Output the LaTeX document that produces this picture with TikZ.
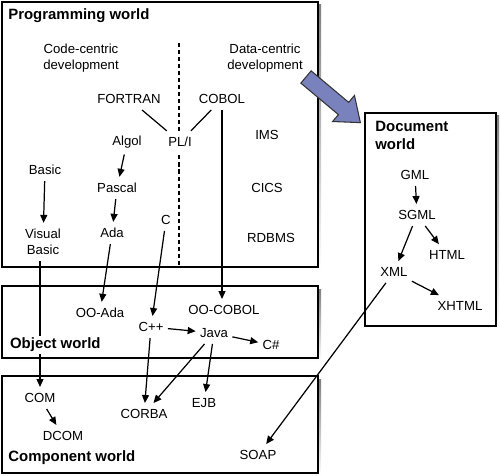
\documentclass[tikz,border=0pt]{standalone}
\usepackage{fontspec}
\setmainfont{Liberation Sans}
\usetikzlibrary{arrows.meta}
\definecolor{shade}{RGB}{146,146,206}
\definecolor{bigarr}{RGB}{122,130,190}

\begin{document}
\begin{tikzpicture}[x=0.02cm,y=-0.02cm,
  lang/.style={font=\fontsize{7.5}{9.1}\selectfont,inner xsep=2.3pt,inner ysep=3.4pt,align=center},
  world/.style={font=\fontsize{8.5}{10.2}\selectfont\bfseries,inner sep=0pt,align=left},
  arr/.style={-{Triangle[length=1.6mm,width=1.4mm]},line width=0.7pt},
  box/.style={draw=black,fill=white,line width=1.1pt}]

\useasboundingbox (0,0) rectangle (500,476);

% boxes, shadow first
\foreach \xa/\ya/\xb/\yb in {2/2/318/267, 2/286/318/358, 2/376/318/473, 365/113/496/326}{
  \fill[shade] (\xa+3,\ya+3) rectangle (\xb+3,\yb+3);
  \draw[box] (\xa,\ya) rectangle (\xb,\yb);
}

% code / data divider
\draw[line width=1.1pt,dash pattern=on 2.3pt off 1.7pt] (179,43) -- (179,267);

% programming world
\node[world,anchor=west] (progw) at (8,16) {Programming world};
\node[lang] (codec) at (81,58) {Code-centric\\development};
\node[lang] (datac) at (265,58) {Data-centric\\development};
\node[lang] (fortran) at (129,99) {FORTRAN};
\node[lang] (cobol) at (222,99) {COBOL};
\node[lang,fill=white] (pli) at (180,142) {PL/I};
\node[lang] (algol) at (127,142) {Algol};
\node[lang] (pascal) at (117,188) {Pascal};
\node[lang] (ada) at (112,233) {Ada};
\node[lang] (basic) at (45,170) {Basic};
\node[lang] (vbasic) at (43,242) {Visual\\Basic};
\node[lang] (c) at (166,220) {C};
\node[lang] (ims) at (267,135) {IMS};
\node[lang] (cics) at (267,188) {CICS};
\node[lang] (rdbms) at (271,238) {RDBMS};

% object world
\node[lang] (ooada) at (100,313) {OO-Ada};
\node[lang] (oocobol) at (224,310) {OO-COBOL};
\node[lang] (cpp) at (151,327) {C++};
\node[lang] (java) at (214,333) {Java};
\node[lang] (csharp) at (271,345) {C\#};

% component world
\node[lang] (com) at (40,398) {COM};
\node[lang] (dcom) at (63,436) {DCOM};
\node[lang] (corba) at (144,414) {CORBA};
\node[lang] (ejb) at (204,403) {EJB};
\node[lang] (soap) at (258,455) {SOAP};
\node[world,anchor=west] (compw) at (8,458) {Component world};

% document world
\node[world,anchor=north west] (docw) at (375,121) {Document\\world};
\node[lang] (gml) at (415,175) {GML};
\node[lang] (sgml) at (417,215) {SGML};
\node[lang] (html) at (447,255) {HTML};
\node[lang] (xml) at (394,272) {XML};
\node[lang] (xhtml) at (460,306) {XHTML};

% lineage
\draw[line width=0.7pt] (fortran) -- (pli);
\draw[line width=0.7pt] (cobol) -- (pli);
\foreach \a/\b in {algol/pascal, pascal/ada, basic/vbasic, ada/ooada, c/cpp,
                   cpp/java, java/csharp, cpp/corba, java/corba, java/ejb,
                   com/dcom, gml/sgml, sgml/html, sgml/xml, xml/xhtml, xml/soap}
  \draw[arr] (\a) -- (\b);
\draw[arr] (cobol.south) -- (cobol.south |- oocobol.north);
\draw[arr] (com.north |- vbasic.south) -- (com.north);

% title over the Visual Basic line
\node[world,anchor=west,fill=white,inner sep=1pt] (objw) at (8,345) {Object world};

% big arrow to the document world
\begin{scope}[shift={(306,77)},rotate=-40]
  \filldraw[fill=bigarr,draw=black!80,line width=0.6pt]
    (0,-8) -- (49,-8) -- (49,-17) -- (71,0) -- (49,17) -- (49,8) -- (0,8) -- cycle;
\end{scope}

\end{tikzpicture}
\end{document}
